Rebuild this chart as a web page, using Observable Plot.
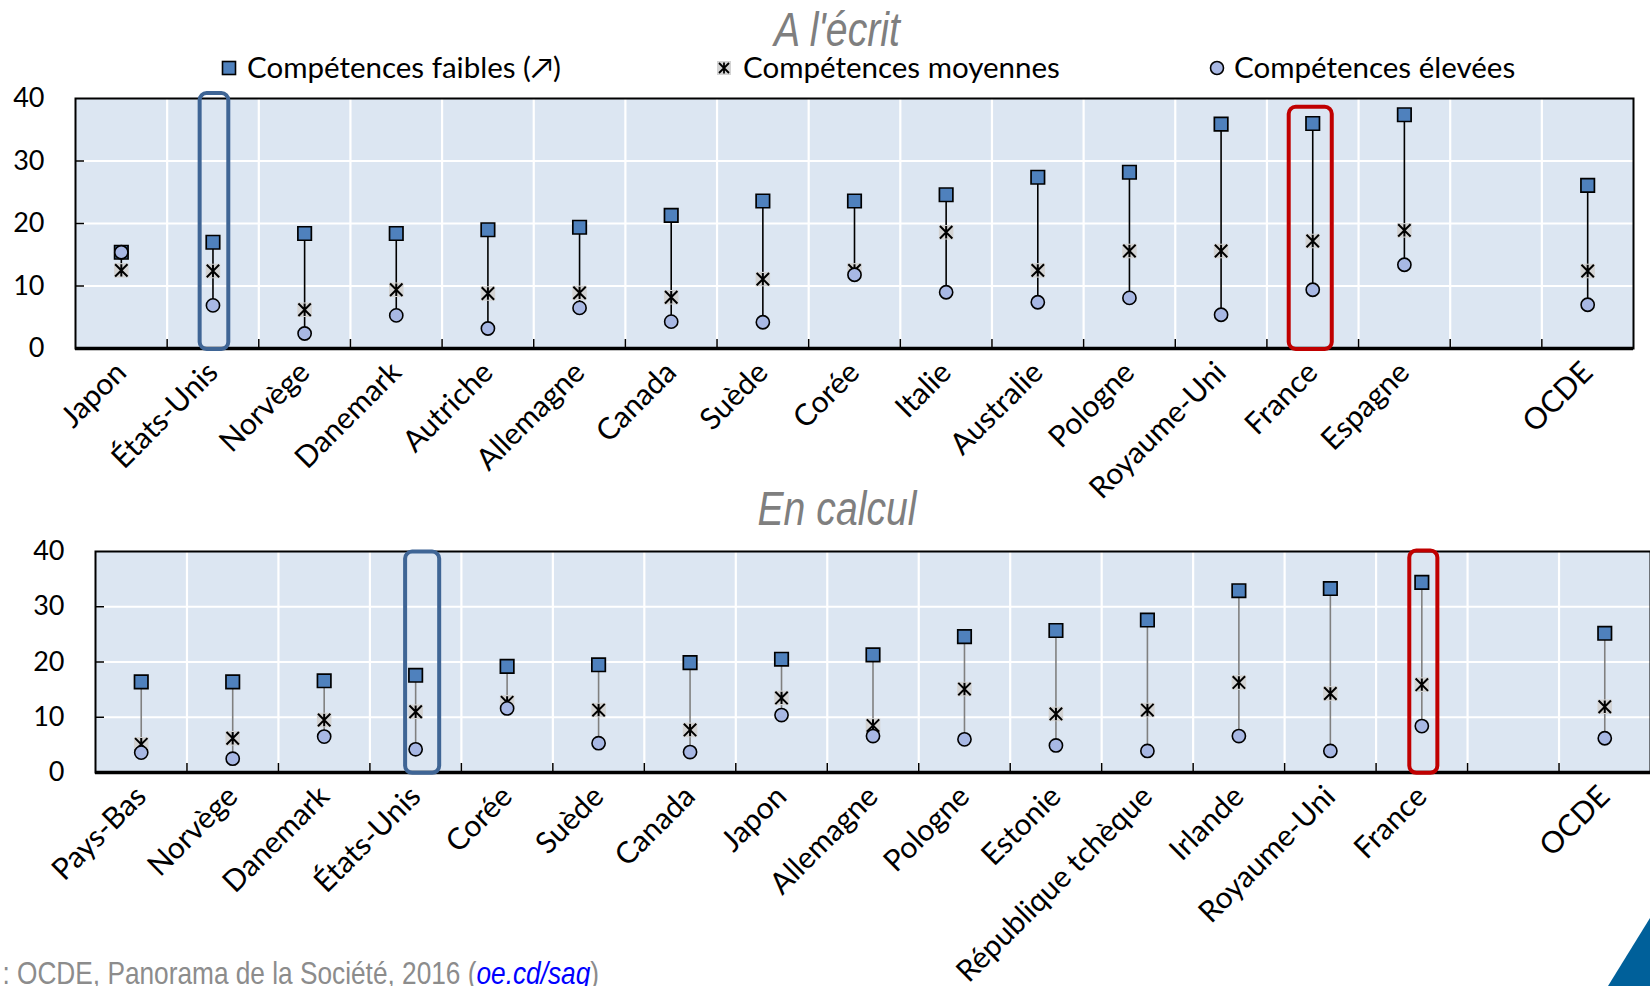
<!DOCTYPE html>
<html><head><meta charset="utf-8">
<script src="https://cdn.jsdelivr.net/npm/d3@7"></script>
<script src="https://cdn.jsdelivr.net/npm/@observablehq/plot@0.6"></script>
<style>
body{margin:0;background:#fff;}
#wrap{position:relative;width:1650px;height:986px;overflow:hidden;font-family:Lato,sans-serif;}
.title{position:absolute;left:12px;width:1650px;text-align:center;font-family:"Liberation Sans",Arial,sans-serif;font-style:italic;color:#7f7f7f;font-size:49px;line-height:42px;white-space:nowrap;transform:scaleX(0.8);transform-origin:center;}
.lg-icon{position:absolute;top:59px;width:18px;height:18px;}
.lg-text{position:absolute;top:52px;font-size:29.5px;line-height:1;color:#000;white-space:nowrap;}
#caption{position:absolute;top:957px;left:0;font-family:"Liberation Sans",Arial,sans-serif;font-size:32px;line-height:1;color:#8c8c8c;white-space:nowrap;transform:scaleX(0.82);transform-origin:left center;}
#caption a{color:#0000ff;font-style:italic;text-decoration:underline;}
.chart{position:absolute;left:0;}
</style></head><body>
<div id="wrap">
  <div class="title" style="top:7.5px">A l'écrit</div>
  <svg class="lg-icon" style="left:220px" viewBox="0 0 18 18"><rect x="2.5" y="2.5" width="13" height="13" fill="#4f81bd" stroke="#000" stroke-width="1.6"/></svg>
  <div class="lg-text" style="left:247px">Compétences faibles (↗)</div>
  <svg class="lg-icon" style="left:715px" viewBox="0 0 18 18"><rect x="2" y="2" width="14" height="14" fill="#d3d3d3"/><path d="M4,4L14,14M14,4L4,14M9,3.5V14.5" stroke="#000" stroke-width="1.8" fill="none"/></svg>
  <div class="lg-text" style="left:743px">Compétences moyennes</div>
  <svg class="lg-icon" style="left:1208px" viewBox="0 0 18 18"><circle cx="9" cy="9" r="6.5" fill="#a8b8e4" stroke="#000" stroke-width="1.6"/></svg>
  <div class="lg-text" style="left:1234px">Compétences élevées</div>
  <div class="chart" id="c1" style="top:80px"></div>
  <div class="title" style="top:486.5px">En calcul</div>
  <div class="chart" id="c2" style="top:530px"></div>
  <div id="caption"><span id="src">Source&nbsp;</span>: OCDE, Panorama de la Société, 2016 (<a>oe.cd/sag</a>)</div>
  <svg style="position:absolute;left:0;top:0;pointer-events:none" width="1650" height="986"><polygon points="1650,918 1608,986 1650,986" fill="#00609a"/></svg>
</div>
<script>
// ---- Data: À l'écrit (literacy) ----
const countriesTop = ["Japon","États-Unis","Norvège","Danemark","Autriche","Allemagne","Canada","Suède","Corée","Italie","Australie","Pologne","Royaume-Uni","France","Espagne","OCDE"];
const faiblesTop  = [15.4,17.0,18.4,18.4,19.0,19.4,21.3,23.6,23.6,24.6,27.4,28.2,35.9,36.0,37.4,26.1];
const moyennesTop = [12.5,12.4,6.2,9.4,8.8,8.9,8.2,11.1,12.5,18.6,12.5,15.6,15.6,17.2,18.9,12.4];
const eleveesTop  = [15.4,6.9,2.4,5.3,3.2,6.5,4.3,4.2,11.8,9.0,7.4,8.1,5.4,9.4,13.4,7.0];

// ---- Data: En calcul (numeracy) ----
const countriesBot = ["Pays-Bas","Norvège","Danemark","États-Unis","Corée","Suède","Canada","Japon","Allemagne","Pologne","Estonie","République tchèque","Irlande","Royaume-Uni","France","OCDE"];
const faiblesBot  = [16.4,16.4,16.6,17.6,19.2,19.5,19.9,20.5,21.3,24.6,25.7,27.6,32.9,33.3,34.4,25.2];
const moyennesBot = [5.1,6.2,9.5,11.0,12.7,11.3,7.7,13.5,8.5,15.1,10.6,11.3,16.3,14.3,15.9,11.9];
const eleveesBot  = [3.6,2.5,6.5,4.2,11.6,5.3,3.7,10.4,6.6,6.0,4.9,3.9,6.6,3.9,8.4,6.2];

const yTicks = [0,10,20,30,40];
const gapLabel = " ";

// highlighted countries (box top in data units)
const boxesTop = [{c:"États-Unis", top:40.8}, {c:"France", top:38.6}];
const boxesBot = [{c:"États-Unis", top:39.9}, {c:"France", top:40.1}];

const starSymbol = {draw(ctx, size){ const r = Math.sqrt(size/Math.PI);
  ctx.moveTo(-r,-r); ctx.lineTo(r,r); ctx.moveTo(r,-r); ctx.lineTo(-r,r); ctx.moveTo(0,-r); ctx.lineTo(0,r);}};

function panel(o){
  const slots = [...o.countries.slice(0,-1), gapLabel, o.countries[o.countries.length-1]];
  const data = o.countries.map((c,i)=>({c, low:o.low[i], mid:o.mid[i], high:o.high[i]}));
  const W = 1650;
  const step = (W - o.ml - o.mr)/slots.length;
  const plotH = o.height - o.mt - o.mb;
  const bx = (i) => o.boxes[i];
  return Plot.plot({
    width: W, height: o.height,
    marginLeft: o.ml, marginRight: o.mr, marginTop: o.mt, marginBottom: o.mb,
    style: {fontFamily: "Lato, sans-serif", fontSize: "27px", color: "#000", background: "transparent", overflow: "visible"},
    x: {domain: slots, padding: 0, round: false, label: null},
    y: {domain: [0,40], label: null},
    marks: [
      Plot.frame({fill: "#dce6f2"}),
      Plot.gridY({ticks: [10,20,30], stroke: "#fff", strokeOpacity: 1, strokeWidth: 2.2}),
      Plot.ruleX(slots.slice(1), {x: d=>d, dx: -step/2, stroke: "#fff", strokeWidth: 2.2}),
      Plot.ruleX(slots.slice(1), {x: d=>d, dx: -step/2, insetTop: plotH - 9, stroke: "#000", strokeWidth: 1.5}),
      Plot.axisY({ticks: [10,20,30], tickSize: 9, dx: 9, tickFormat: () => "", stroke: "#000", strokeWidth: 1.5}),
      Plot.frame({stroke: "#000", strokeWidth: 2}),
      Plot.ruleY([0], {stroke: "#000", strokeWidth: 3.5}),
      Plot.axisY({ticks: yTicks, tickSize: 0, tickPadding: 31, fontSize: 27}),
      Plot.axisX({tickSize: 0, tickRotate: -45, tickPadding: 19, fontSize: 30, tickFormat: d => d.trim()}),
      Plot.ruleX(data, {x: "c", y1: d=>Math.min(d.low,d.mid,d.high), y2: d=>Math.max(d.low,d.mid,d.high), stroke: o.lineColor, strokeWidth: 1.6}),
      Plot.dot(data, {x: "c", y: "low", symbol: "square", r: 7.6, fill: "#4f81bd", stroke: "#000", strokeWidth: 1.7}),
      Plot.dot(data, {x: "c", y: "mid", symbol: "square", r: 8.2, fill: "#d3d3d3"}),
      Plot.dot(data, {x: "c", y: "mid", symbol: starSymbol, r: 6.2, fill: "none", stroke: "#000", strokeWidth: 2}),
      Plot.dot(data, {x: "c", y: "high", r: 6.6, fill: "#a8b8e4", stroke: "#000", strokeWidth: 1.6}),
      Plot.barY([bx(0)], {x: "c", y1: -0.15, y2: "top", fill: "none", stroke: "#3f6595", strokeWidth: 4, rx: 7, insetLeft: o.box0[0], insetRight: o.box0[0], dx: o.box0[1]}),
      Plot.barY([bx(1)], {x: "c", y1: -0.15, y2: "top", fill: "none", stroke: "#c00000", strokeWidth: 4, rx: 7, insetLeft: o.box1[0], insetRight: o.box1[0], dx: o.box1[1]})
    ]
  });
}

document.getElementById("c1").append(panel({
  countries: countriesTop, low: faiblesTop, mid: moyennesTop, high: eleveesTop,
  height: 440, ml: 75, mr: 17, mt: 18, mb: 172, lineColor: "#000",
  boxes: boxesTop, box0: [31.5, 1.5], box1: [24.3, -2]
}));
document.getElementById("c2").append(panel({
  countries: countriesBot, low: faiblesBot, mid: moyennesBot, high: eleveesBot,
  height: 456, ml: 95, mr: 0, mt: 21, mb: 214, lineColor: "#808080",
  boxes: boxesBot, box0: [28.7, 7], box1: [31.7, 2]
}));

const src = document.getElementById("src");
document.getElementById("caption").style.left = (2 - src.getBoundingClientRect().width) + "px";
</script>
</body></html>
